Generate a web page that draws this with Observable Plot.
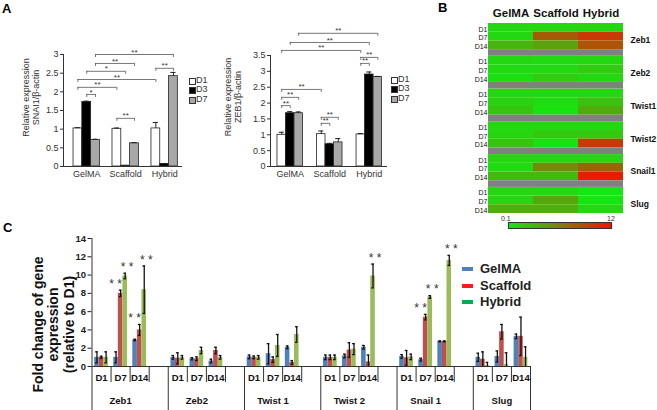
<!DOCTYPE html>
<html><head><meta charset="utf-8">
<script src="https://cdn.jsdelivr.net/npm/d3@7"></script>
<script src="https://cdn.jsdelivr.net/npm/@observablehq/plot@0.6"></script>
<style>
body{margin:0;background:#fff;}
#fig{position:relative;width:657px;height:410px;overflow:hidden;font-family:"Liberation Sans",Arial,sans-serif;background:#fff;}
.t{position:absolute;white-space:nowrap;line-height:1;}
</style></head><body><div id="fig"></div>
<script>
// ---------- Panel A data ----------
const aGroups = ["GelMA", "Scaffold", "Hybrid"];
const aDays = ["D1", "D3", "D7"];
const snai1Mean = [[1.02, 1.73, 0.71], [1.01, 0.02, 0.62], [1.02, 0.07, 2.42]];
const snai1Err  = [[0.02, 0.02, 0.02], [0.02, 0.01, 0.02], [0.16, 0.01, 0.10]];
const zeb1Mean  = [[1.00, 1.68, 1.68], [1.02, 0.70, 0.76], [1.01, 2.90, 2.82]];
const zeb1Err   = [[0.08, 0.05, 0.04], [0.10, 0.03, 0.12], [0.03, 0.08, 0.02]];
// significance brackets: [group A, day A, group B, day B, level, label]
const snai1Sig = [
  [0, 1, 0, 2, 1.93, "*"], [0, 0, 1, 0, 2.12, "**"], [0, 0, 2, 0, 2.33, "**"],
  [0, 1, 1, 1, 2.55, "*"], [0, 2, 1, 2, 2.76, "**"], [0, 2, 2, 2, 3.0, "**"],
  [1, 0, 1, 2, 1.29, "**"], [2, 0, 2, 2, 2.63, "**"]
];
const zeb1Sig = [
  [0, 0, 0, 1, 1.92, "**"], [0, 0, 0, 2, 2.18, "**"], [0, 0, 1, 0, 2.43, "**"],
  [1, 0, 1, 1, 1.36, "**"], [1, 0, 1, 2, 1.55, "**"],
  [0, 0, 2, 0, 3.66, "**"], [0, 1, 2, 1, 3.91, "**"], [0, 2, 2, 2, 4.2, "**"],
  [2, 0, 2, 1, 3.25, "**"], [2, 0, 2, 2, 3.44, "**"]
];
const snai1Ticks = [0, 0.5, 1, 1.5, 2, 2.5, 3];
const zeb1Ticks = [0, 0.5, 1, 1.5, 2, 2.5, 3, 3.5];

// ---------- Panel B / C data ----------
const genes = ["Zeb1", "Zeb2", "Twist 1", "Twist 2", "Snail 1", "Slug"];
const heatGenes = ["Zeb1", "Zeb2", "Twist1", "Twist2", "Snail1", "Slug"];
const cDays = ["D1", "D7", "D14"];
const materials = ["GelMA", "Scaffold", "Hybrid"];
// foldMean[gene][day][material]
const foldMean = [
  [[1.0, 1.0, 1.0], [1.0, 8.0, 9.9], [2.9, 4.0, 8.4]],
  [[1.0, 0.9, 1.0], [0.85, 0.85, 1.75], [0.6, 1.75, 1.0]],
  [[1.05, 1.0, 1.0], [1.4, 0.75, 2.3], [2.1, 0.45, 3.5]],
  [[1.0, 1.0, 1.0], [1.15, 1.8, 1.9], [2.1, 0.5, 9.9]],
  [[1.1, 0.95, 1.05], [0.75, 5.4, 7.6], [2.75, 2.75, 11.6]],
  [[1.0, 0.8, 0.1], [1.1, 3.8, 0.2], [3.3, 3.3, 1.0]]
];
const foldErr = [
  [[0.6, 0.12, 0.6], [0.6, 0.35, 0.3], [0.08, 0.6, 2.6]],
  [[0.2, 0.6, 0.2], [0.12, 0.2, 0.35], [0.2, 0.35, 0.2]],
  [[0.2, 0.15, 0.2], [1.1, 0.3, 1.2], [0.15, 0.2, 0.85]],
  [[0.25, 0.25, 0.25], [0.2, 0.8, 0.6], [0.2, 0.75, 1.3]],
  [[0.2, 0.8, 0.3], [0.15, 0.3, 0.15], [0.05, 0.05, 0.55]],
  [[0.45, 0.8, 0.35], [0.6, 0.8, 1.3], [0.25, 2.1, 1.15]]
];
// significance stars: [gene, day, material]
const cStars = [[0, 1, 1], [0, 1, 2], [0, 2, 1], [0, 2, 2], [3, 2, 2], [4, 1, 1], [4, 1, 2], [4, 2, 2]];
const cTicks = [0, 2, 4, 6, 8, 10, 12, 14];
const heatRange = [0.1, 12];

// ---------- helpers ----------
const FONT = "'Liberation Sans', Arial, sans-serif";
const fig = document.getElementById("fig");
const STYLE = {background: "none", overflow: "visible", fontFamily: FONT};
function place(el, left, top) {
  el.style.position = "absolute"; el.style.left = left + "px"; el.style.top = top + "px";
  fig.appendChild(el); return el;
}
function label(text, left, top, css) {
  const d = document.createElement("div");
  d.className = "t"; d.textContent = text;
  d.style.left = left + "px"; d.style.top = top + "px";
  Object.assign(d.style, css || {});
  fig.appendChild(d); return d;
}

// ---------- Panel A charts ----------
function aChart(o) {
  const H = 200;
  const pxu = (H - o.mT - o.mB) / o.yMax;
  const rows = [];
  aGroups.forEach((g, gi) => aDays.forEach((d, di) => {
    const pos = gi * o.P + di;
    rows.push({group: g, day: d, x1: pos, x2: pos + 1, xc: pos + 0.5, y: o.mean[gi][di], e: o.err[gi][di]});
  }));
  const br = o.sig.map(([ga, da, gb, db, lv, lab]) => ({xa: ga * o.P + da + 0.5, xb: gb * o.P + db + 0.5, y: lv, lab}));
  const tk = 3 / pxu;
  const el = Plot.plot({
    width: 230, height: H,
    marginLeft: o.mL, marginRight: o.mR, marginTop: o.mT, marginBottom: o.mB,
    style: STYLE,
    x: {domain: o.xDomain, axis: null},
    y: {domain: [0, o.yMax]},
    color: {domain: aDays, range: ["#ffffff", "#000000", "#a8a8a8"]},
    marks: [
      Plot.axisY({ticks: o.ticks, tickFormat: d => String(d), tickSize: 3, tickPadding: 2, fontSize: 9, color: "#333", label: null}),
      Plot.ruleX([o.xDomain[0]], {y1: 0, y2: o.yMax, stroke: "#333"}),
      Plot.rect(rows, {x1: "x1", x2: "x2", y1: 0, y2: "y", fill: "day", stroke: "#222", strokeWidth: 0.8}),
      Plot.ruleX(rows, {x: "xc", y1: "y", y2: d => d.y + d.e, stroke: "#222"}),
      Plot.ruleY(rows, {y: d => d.y + d.e, x1: d => d.xc - 0.3, x2: d => d.xc + 0.3, stroke: "#222"}),
      Plot.ruleY([0], {stroke: "#333"}),
      Plot.text(aGroups, {x: (d, i) => i * o.P + 1.5, y: 0, dy: 8, fontSize: 9, fill: "#333"}),
      Plot.ruleY(br, {y: "y", x1: "xa", x2: "xb", stroke: "#555", strokeWidth: 0.8}),
      Plot.ruleX(br, {x: "xa", y1: "y", y2: d => d.y - tk, stroke: "#555", strokeWidth: 0.8}),
      Plot.ruleX(br, {x: "xb", y1: "y", y2: d => d.y - tk, stroke: "#555", strokeWidth: 0.8}),
      Plot.text(br, {x: d => (d.xa + d.xb) / 2, y: "y", text: "lab", dy: -2.5, fontSize: 8, fill: "#333"}),
      Plot.text([o.ylabel], {frameAnchor: "left", textAnchor: "middle", lineAnchor: "middle", rotate: -90, dx: o.labelDx, dy: o.labelDy, fontSize: 9, lineHeight: 1.1, fill: "#333"})
    ]
  });
  place(el, o.left, 0);
  // legend
  const fills = ["#ffffff", "#000000", "#a8a8a8"];
  aDays.forEach((d, i) => {
    const y = o.legY + i * 9.3;
    const sw = document.createElement("div");
    Object.assign(sw.style, {position: "absolute", left: o.legX + "px", top: (y - 3) + "px", width: "5px", height: "5px", background: fills[i], border: "0.8px solid #333"});
    fig.appendChild(sw);
    label(d, o.legX + 7, y - 5, {fontSize: "9px", color: "#333"});
  });
}

aChart({mean: snai1Mean, err: snai1Err, sig: snai1Sig, yMax: 3, ticks: snai1Ticks,
  ylabel: "Relative expression\nSNAI1/β-actin", left: 0, P: 4.43, xDomain: [-1.14, 12.39],
  mL: 63, mR: 48, mT: 54, mB: 34, labelDx: -33, labelDy: -13, legX: 189, legY: 81});
aChart({mean: zeb1Mean, err: zeb1Err, sig: zeb1Sig, yMax: 3.5, ticks: zeb1Ticks,
  ylabel: "Relative expression\nZEB1/β-actin", left: 220, P: 4.65, xDomain: [-0.82, 12.94],
  mL: 50, mR: 63, mT: 55, mB: 34, labelDx: -38, labelDy: -14, legX: 391, legY: 80});

// ---------- Panel B heatmap ----------
const gapH = 0.76, blockH = 3 + gapH, totalH = 6 * 3 + 5 * gapH;
const heatCells = [], rowLabels = [];
heatGenes.forEach((g, k) => cDays.forEach((d, r) => {
  rowLabels.push({day: d, yc: k * blockH + r + 0.5});
  materials.forEach((m, i) => heatCells.push({x1: i, x2: i + 1, y1: k * blockH + r, y2: k * blockH + r + 1,
    v: Math.max(heatRange[0], foldMean[k][r][i])}));
}));
const heatGaps = heatGenes.slice(0, -1).map((g, k) => ({y1: k * blockH + 3, y2: (k + 1) * blockH}));
const heat = Plot.plot({
  width: 217, height: 235, marginLeft: 48, marginRight: 34, marginTop: 23, marginBottom: 22,
  style: STYLE,
  x: {domain: [0, 3], axis: null},
  y: {domain: [0, totalH], reverse: true, axis: null},
  color: {type: "linear", domain: heatRange, range: ["#12e812", "#f01400"], interpolate: "rgb"},
  marks: [
    Plot.rect(heatCells, {x1: "x1", x2: "x2", y1: "y1", y2: "y2", fill: "v"}),
    Plot.rect(heatGaps, {x1: 0, x2: 3, y1: "y1", y2: "y2", fill: "#808080"}),
    Plot.text(materials, {x: (d, i) => i + 0.5, frameAnchor: "top", lineAnchor: "middle", dy: -10, fontWeight: "bold", fontSize: 11.5, fill: "#111"}),
    Plot.text(rowLabels, {x: 0, y: "yc", text: "day", textAnchor: "end", dx: -1, dy: 1.5, fontSize: 7, fill: "#111"}),
    Plot.text(heatGenes, {x: 3, y: (d, k) => k * blockH + 1.5, textAnchor: "start", dx: 7, dy: 4, fontWeight: "bold", fontSize: 8.5, fill: "#111"})
  ]
});
place(heat, 440, 0);
const cs = heat.scale("color");
const bar = document.createElement("div");
Object.assign(bar.style, {position: "absolute", left: "508px", top: "222px", width: "102px", height: "5px",
  border: "1px solid #333",
  background: `linear-gradient(to right, ${cs.apply(heatRange[0])}, ${cs.apply((heatRange[0] + heatRange[1]) / 2)}, ${cs.apply(heatRange[1])})`});
fig.appendChild(bar);
label(String(heatRange[0]), 501, 215, {fontSize: "7px", color: "#333"});
label(String(heatRange[1]), 607, 215, {fontSize: "7px", color: "#333"});

// ---------- Panel C ----------
const cH = 210, cMT = 38, cMB = 44;
const cpxu = (cH - cMT - cMB) / 14;
const cRows = [];
genes.forEach((g, k) => cDays.forEach((d, r) => materials.forEach((m, i) => {
  const x1 = k * 4 + r + 0.14 + i * 0.24;
  cRows.push({gene: g, day: d, material: m, x1, x2: x1 + 0.24, xc: x1 + 0.12, y: foldMean[k][r][i], e: foldErr[k][r][i]});
})));
const dayLabels = [], shortSeps = [], longSeps = [];
genes.forEach((g, k) => {
  cDays.forEach((d, r) => dayLabels.push({day: d, x: k * 4 + r + 0.5}));
  longSeps.push(k * 4);
  if (k < genes.length - 1) shortSeps.push(k * 4 + 1, k * 4 + 2, k * 4 + 3);
  else { shortSeps.push(k * 4 + 1, k * 4 + 2); longSeps.push(k * 4 + 3); }
});
const xEnd = (genes.length - 1) * 4 + 3;
const starRows = cStars.map(([k, r, i]) => cRows[(k * 3 + r) * 3 + i]);
const starOpts = {x: "xc", y: d => d.y + d.e, text: () => "* *", dy: -6, fontSize: 12, fill: "#333"};
const cPlot = Plot.plot({
  width: 657, height: cH, marginLeft: 91.5, marginRight: 127, marginTop: cMT, marginBottom: cMB,
  style: STYLE,
  x: {domain: [0, xEnd], axis: null},
  y: {domain: [0, 14]},
  color: {domain: materials, range: ["#4f81bd", "#c0504d", "#9bbb59"]},
  marks: [
    Plot.axisY({ticks: cTicks, tickSize: 4, tickPadding: 2, fontSize: 9.5, fontWeight: "bold", color: "#222", label: null}),
    Plot.ruleX([0], {y1: 0, y2: 14, stroke: "#333"}),
    Plot.rect(cRows, {x1: "x1", x2: "x2", y1: 0, y2: "y", fill: "material"}),
    Plot.ruleX(cRows, {x: "xc", y1: d => Math.max(0, d.y - d.e), y2: d => d.y + d.e, stroke: "#111", strokeWidth: 1.3}),
    Plot.ruleY(cRows, {y: d => d.y + d.e, x1: d => d.xc - 0.07, x2: d => d.xc + 0.07, stroke: "#111", strokeWidth: 1.3}),
    Plot.ruleY(cRows.filter(d => d.y - d.e > 0), {y: d => d.y - d.e, x1: d => d.xc - 0.07, x2: d => d.xc + 0.07, stroke: "#111", strokeWidth: 1.3}),
    Plot.ruleY([0], {x1: 0, x2: xEnd, stroke: "#333"}),
    Plot.ruleX(shortSeps, {x: d => d, y1: 0, y2: -16 / cpxu, stroke: "#333"}),
    Plot.ruleX(longSeps, {x: d => d, y1: 0, y2: -cMB / cpxu, stroke: "#333"}),
    Plot.text(dayLabels, {x: "x", y: 0, text: "day", dy: 11, fontSize: 9.5, fontWeight: "bold", fill: "#111"}),
    Plot.text(genes, {x: (d, k) => k * 4 + 1.5, y: 0, dy: 34, fontSize: 9.5, fontWeight: "bold", fill: "#111"}),
    Plot.text(starRows.filter(d => d.material === "Scaffold"), {...starOpts, dx: -5}),
    Plot.text(starRows.filter(d => d.material === "Hybrid"), {...starOpts, dx: 2}),
    Plot.text(["Fold change of gene\nexpression\n(relative to D1)"], {frameAnchor: "left", textAnchor: "middle", lineAnchor: "middle", rotate: -90, dx: -38.5, dy: 22, fontSize: 14, fontWeight: "bold", lineHeight: 1.1, fill: "#111"})
  ]
});
place(cPlot, 0, 200);
// legend C
const legColors = ["#4f81bd", "#ff1a1a", "#00b050"];
materials.forEach((m, i) => {
  const y = 269 + i * 16.5;
  const sw = document.createElement("div");
  Object.assign(sw.style, {position: "absolute", left: "462px", top: (y - 2) + "px", width: "11px", height: "4px", background: legColors[i]});
  fig.appendChild(sw);
  label(m, 480, y - 7, {fontSize: "13px", fontWeight: "bold", color: "#222"});
});

// panel letters
label("A", 2, 2, {fontSize: "13px", fontWeight: "bold"});
label("B", 438, 1, {fontSize: "13px", fontWeight: "bold"});
label("C", 3, 221, {fontSize: "13px", fontWeight: "bold"});
</script></body></html>
